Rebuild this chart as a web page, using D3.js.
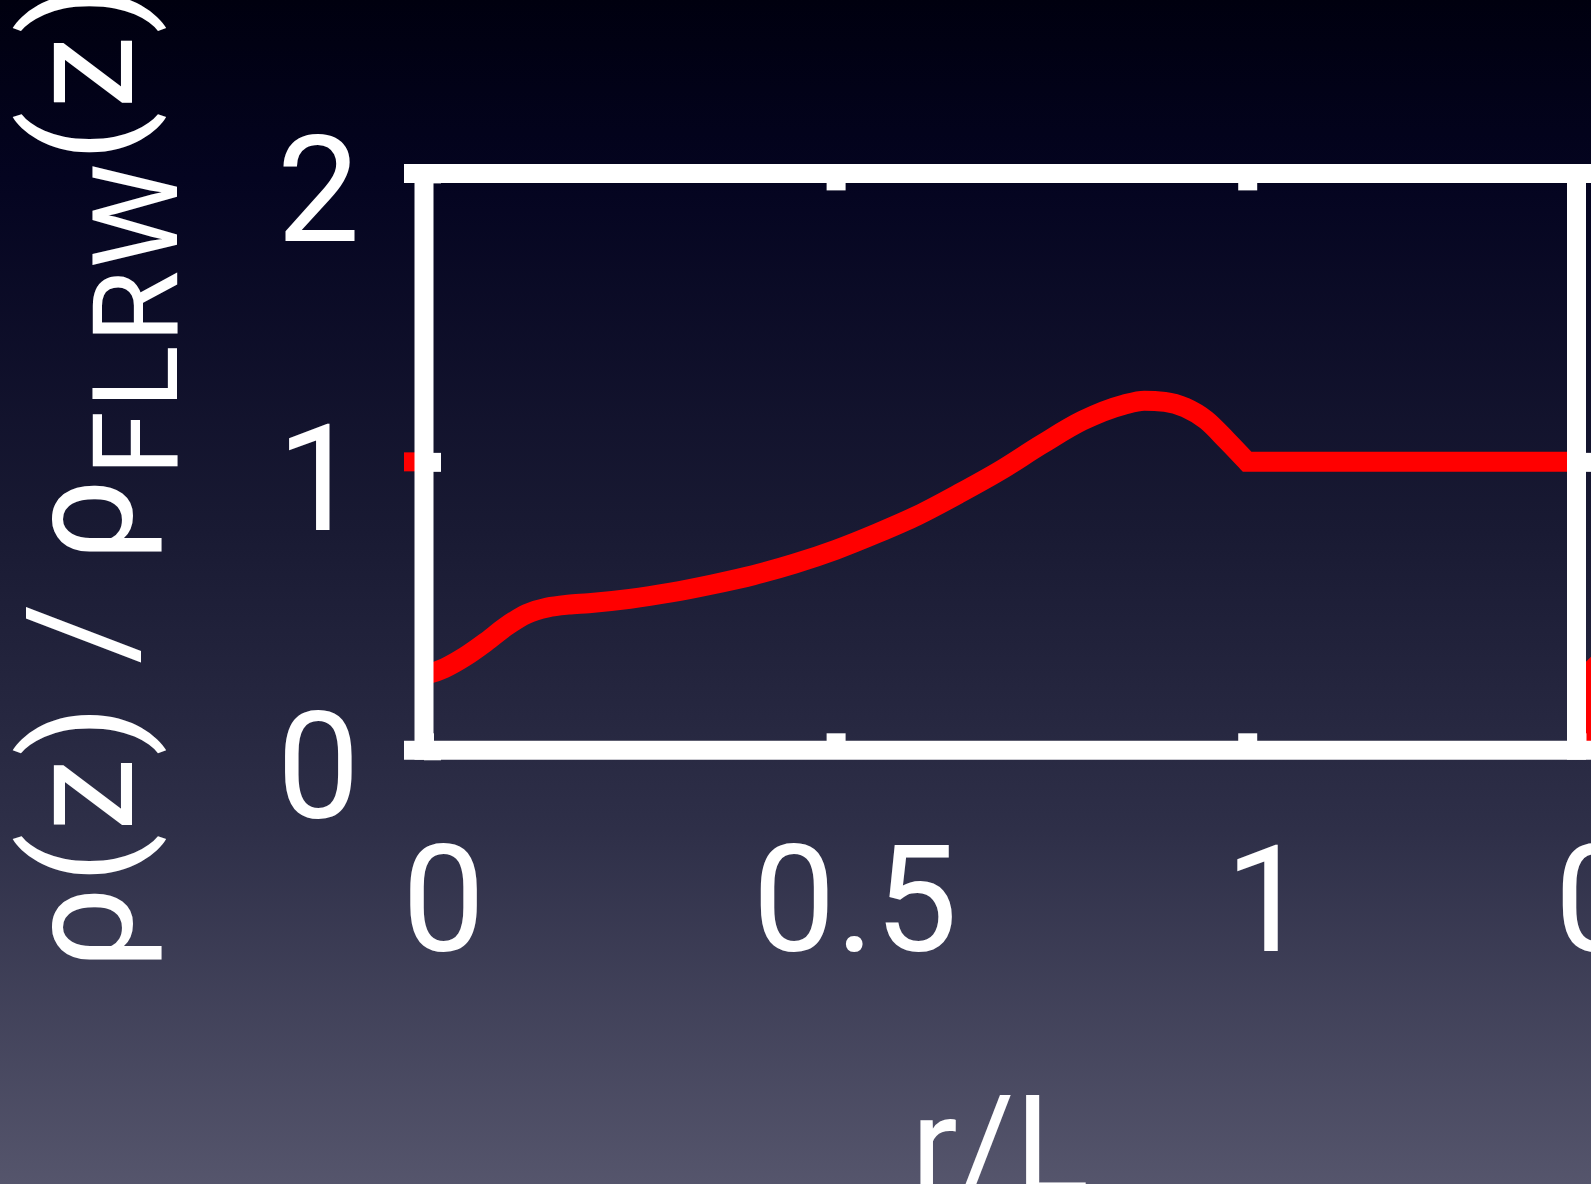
<!DOCTYPE html>
<html>
<head>
<meta charset="utf-8">
<script src="https://cdn.jsdelivr.net/npm/d3@7"></script>
<style>
  html, body { margin: 0; padding: 0; background: #000; }
  svg { display: block; }
  text { font-family: Roboto, "Liberation Sans", Arial, Helvetica, sans-serif; fill: #fff; }
</style>
</head>
<body>
<svg id="chart" width="1591" height="1184"></svg>
<script>
// Density profile rho(z)/rho_FLRW(z) as a function of radius r/L
const rValues = [0, 0.025, 0.05, 0.075, 0.1, 0.125, 0.15, 0.175, 0.2, 0.25, 0.3, 0.35,
                 0.4, 0.45, 0.5, 0.55, 0.6, 0.65, 0.7, 0.75, 0.8, 0.85, 0.875, 0.9,
                 0.925, 0.95, 0.975, 1.0, 1.4];
const densityValues = [0.26, 0.285, 0.325, 0.375, 0.43, 0.473, 0.495, 0.505, 0.51, 0.525, 0.547, 0.575,
                       0.607, 0.647, 0.695, 0.752, 0.815, 0.89, 0.97, 1.06, 1.143, 1.198, 1.212, 1.208,
                       1.188, 1.145, 1.075, 1.0, 1.0];

// Start of the neighbouring panel's profile (right-hand panel)
const nextRValues = [0.015, 0.015, 0.03, 0.07, 0.2];
const nextDensityValues = [0.0, 0.25, 0.31, 0.33, 0.34];

const xTickValues = [0, 0.5, 1, 1.4];
const xTickLabels = ["0", "0.5", "1", "0"];
const yTickValues = [0, 1, 2];
const yTickLabels = ["0", "1", "2"];
const xTitle = "r/L";

const W = 1591, H = 1184;
const LINE = 19;       // stroke width of frame, ticks and curves
const TICK = 17;       // inward tick length measured from the frame centre line
const FONT = 148;
const FONT_FAMILY = 'Roboto, "Liberation Sans", Arial, Helvetica, sans-serif';

const svg = d3.select("#chart");

// background gradient
const defs = svg.append("defs");
const grad = defs.append("linearGradient").attr("id", "bg")
  .attr("x1", 0).attr("y1", 0).attr("x2", 0).attr("y2", 1);
[["0%", "#00000f"], ["15%", "#040420"], ["45%", "#191a33"], ["70%", "#2e2f48"], ["100%", "#55556c"]]
  .forEach(([o, c]) => grad.append("stop").attr("offset", o).attr("stop-color", c));
svg.append("rect").attr("width", W).attr("height", H).attr("fill", "url(#bg)");

const x = d3.scaleLinear().domain([0, 1.4]).range([424, 1576.5]);
const y = d3.scaleLinear().domain([0, 2]).range([750.3, 173.4]);
const xNext = d3.scaleLinear().domain([0, 1.4]).range([x(1.4), x(1.4) + (x(1.4) - x(0))]);

defs.append("clipPath").attr("id", "plotClip").append("rect")
  .attr("x", x(0)).attr("y", y(2)).attr("width", x(1.4) - x(0)).attr("height", y(0) - y(2));
defs.append("clipPath").attr("id", "nextClip").append("rect")
  .attr("x", xNext(0)).attr("y", y(2)).attr("width", W - xNext(0)).attr("height", y(0) - y(2));

// neighbouring panel's curve
const nextData = nextRValues.map((r, i) => [r, nextDensityValues[i]]);
svg.append("path")
  .attr("clip-path", "url(#nextClip)")
  .attr("d", d3.line().x(d => xNext(d[0])).y(d => y(d[1])).curve(d3.curveMonotoneY)(nextData))
  .attr("fill", "none").attr("stroke", "#ff0000").attr("stroke-width", LINE);

// end of the left-hand panel's curve, just outside the frame
svg.append("line")
  .attr("x1", x(0) - 20).attr("x2", x(0))
  .attr("y1", y(1)).attr("y2", y(1))
  .attr("stroke", "#ff0000").attr("stroke-width", LINE);

// main profile: smooth inside the void, flat outside r = L
const data = rValues.map((r, i) => [r, densityValues[i]]);
const split = rValues.indexOf(1);
const smooth = d3.line().x(d => x(d[0])).y(d => y(d[1])).curve(d3.curveMonotoneX);
const straight = d3.line().x(d => x(d[0])).y(d => y(d[1]));
const pathD = smooth(data.slice(0, split + 1)) + straight(data.slice(split)).replace(/^M/, "L");
svg.append("path")
  .attr("clip-path", "url(#plotClip)")
  .attr("d", pathD)
  .attr("fill", "none").attr("stroke", "#ff0000").attr("stroke-width", LINE + 1)
  .attr("stroke-linejoin", "miter").attr("stroke-linecap", "butt");

// frame
const frame = svg.append("g").attr("stroke", "#fff").attr("stroke-width", LINE);
frame.append("line").attr("x1", x(0) - 20).attr("x2", W).attr("y1", y(2)).attr("y2", y(2));
frame.append("line").attr("x1", x(0) - 20).attr("x2", W).attr("y1", y(0)).attr("y2", y(0));
frame.append("line").attr("x1", x(0)).attr("x2", x(0)).attr("y1", y(2) - LINE / 2).attr("y2", y(0) + LINE / 2);
frame.append("line").attr("x1", x(1.4)).attr("x2", x(1.4)).attr("y1", y(2) - LINE / 2).attr("y2", y(0) + LINE / 2);

function styleAxis(g) {
  g.select(".domain").remove();
  g.selectAll(".tick line").attr("stroke", "#fff").attr("stroke-width", LINE);
  g.selectAll(".tick text").attr("fill", "#fff")
    .style("font-size", FONT + "px")
    .style("font-family", FONT_FAMILY);
}

// bottom axis with labels
const xLabelMap = new Map(xTickValues.map((v, i) => [v, xTickLabels[i]]));
svg.append("g")
  .attr("transform", `translate(0,${y(0)})`)
  .call(d3.axisBottom(x).tickValues(xTickValues).tickSize(-TICK).tickPadding(96)
    .tickFormat(v => xLabelMap.get(v)))
  .call(styleAxis)
  .call(g => g.selectAll(".tick text").attr("dx", 19));

// top axis, ticks only
svg.append("g")
  .attr("transform", `translate(0,${y(2)})`)
  .call(d3.axisTop(x).tickValues(xTickValues.slice(1, 3)).tickSize(-TICK).tickFormat(""))
  .call(styleAxis);

// left axis with labels
const yLabelMap = new Map(yTickValues.map((v, i) => [v, yTickLabels[i]]));
svg.append("g")
  .attr("transform", `translate(${x(0)},0)`)
  .call(d3.axisLeft(y).tickValues(yTickValues).tickSize(-TICK).tickPadding(64)
    .tickFormat(v => yLabelMap.get(v)))
  .call(styleAxis)
  .call(g => g.selectAll(".tick text").attr("dy", "0.455em"));

// neighbouring panel's left-axis ticks
svg.append("g")
  .attr("transform", `translate(${xNext(0)},0)`)
  .call(d3.axisLeft(y).tickValues([1]).tickSize(-TICK).tickFormat(""))
  .call(styleAxis);

// axis titles
svg.append("text")
  .attr("x", 1000).attr("y", 1193)
  .attr("text-anchor", "middle")
  .style("font-size", "138px")
  .text(xTitle);

const yTitle = svg.append("text")
  .attr("transform", "translate(132,970) rotate(-90)")
  .style("font-size", "148px")
  .style("letter-spacing", "2px");
yTitle.append("tspan").text("ρ(z) / ρ");
yTitle.append("tspan").attr("dy", 45).style("font-size", "118px").text("FLRW");
yTitle.append("tspan").attr("dy", -45).style("font-size", "148px").text("(z)");
</script>
</body>
</html>
